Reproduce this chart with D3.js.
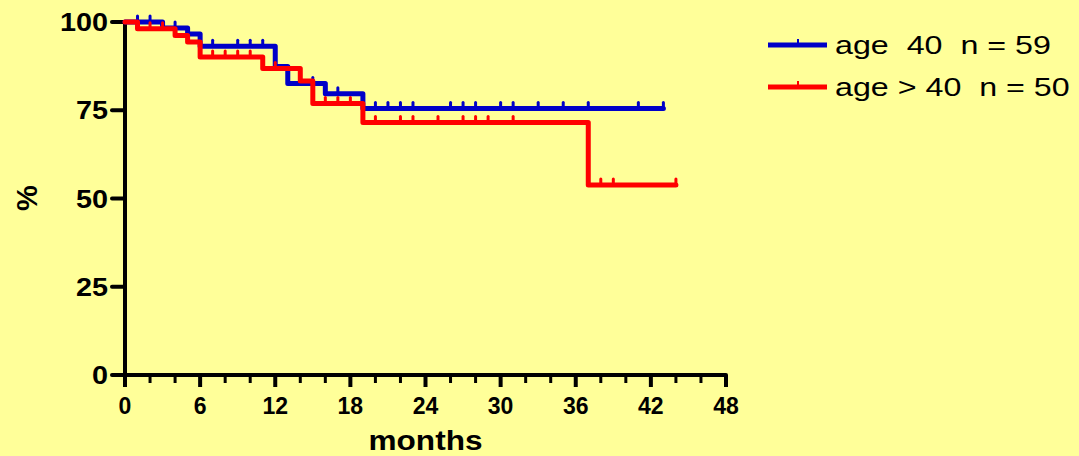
<!DOCTYPE html>
<html>
<head>
<meta charset="utf-8">
<script src="https://cdn.jsdelivr.net/npm/d3@7"></script>
<style>
  body { margin: 0; background: #FFFF99; }
  svg { display: block; }
  text { font-family: "Liberation Sans", Arial, sans-serif; fill: #000; white-space: pre; }
  .tick-label { font-weight: bold; }
</style>
</head>
<body>
<div id="chart"></div>
<script>
// survival curves
const blueTimes = [0, 3, 5, 6, 12, 13, 16, 19, 43];
const blueSurv = [100, 98.3, 96.6, 93.1, 87.4, 82.6, 79.7, 75.5, 75.5];
const blueCens = [1, 2, 4, 7, 9, 10, 11, 15, 17, 20, 21, 22, 23, 26, 27, 28, 30, 31, 33, 35, 37, 41, 43];

const redTimes = [0, 1, 4, 5, 6, 11, 14, 15, 19, 37, 44];
const redSurv = [100, 98.1, 96.2, 94.3, 90.1, 86.8, 83.3, 76.9, 71.5, 53.8, 53.8];
const redCens = [2, 3, 7, 8, 9, 10, 12, 16, 17, 18, 20, 22, 23, 25, 27, 28, 29, 31, 38, 39, 44];

const xTicks = [0, 6, 12, 18, 24, 30, 36, 42, 48];
const xMinor = d3.range(0, 49, 2);
const yTicks = [0, 25, 50, 75, 100];

const legendLabels = ['age  40  n = 59', 'age > 40  n = 50'];

const COLORS = { blue: '#0000C8', red: '#FF0000', bg: '#FFFF99' };

const W = 1079, H = 456;
const x = d3.scaleLinear().domain([0, 48]).range([125, 726]);
const y = d3.scaleLinear().domain([0, 100]).range([375, 22]);

const svg = d3.select('#chart').append('svg')
  .attr('width', W)
  .attr('height', H);

svg.append('rect').attr('width', W).attr('height', H).attr('fill', COLORS.bg);

// text in the original is a bit stretched sideways
function stretched(sel, tx, ty, sx) {
  return sel.attr('transform', 'translate(' + tx + ',' + ty + ') scale(' + sx + ',1)');
}

// axes
let gx = svg.append('g').attr('transform', 'translate(0,375)');
gx.selectAll('.minor')
  .data(xMinor.filter(function (d) { return d % 6 !== 0; }))
  .enter().append('line')
  .attr('x1', function (d) { return x(d); })
  .attr('x2', function (d) { return x(d); })
  .attr('y1', 0).attr('y2', 8)
  .attr('stroke', '#000').attr('stroke-width', 3);
gx.selectAll('.major')
  .data(xTicks)
  .enter().append('line')
  .attr('x1', function (d) { return x(d); })
  .attr('x2', function (d) { return x(d); })
  .attr('y1', 0).attr('y2', 12)
  .attr('stroke', '#000').attr('stroke-width', 4);
gx.append('line')
  .attr('x1', x(0)).attr('x2', x(48))
  .attr('stroke', '#000').attr('stroke-width', 4)
  .attr('stroke-linecap', 'round');
gx.selectAll('.tick-label')
  .data(xTicks)
  .enter().append('text')
  .attr('class', 'tick-label')
  .attr('x', function (d) { return x(d); })
  .attr('y', 39)
  .attr('text-anchor', 'middle')
  .style('font-size', '23px')
  .text(function (d) { return d; });

let gy = svg.append('g').attr('transform', 'translate(125,0)');
gy.append('line')
  .attr('y1', y(100)).attr('y2', y(0))
  .attr('stroke', '#000').attr('stroke-width', 4);
gy.selectAll('.ytick')
  .data(yTicks)
  .enter().append('line')
  .attr('x1', -13).attr('x2', 0)
  .attr('y1', function (d) { return y(d); })
  .attr('y2', function (d) { return y(d); })
  .attr('stroke', '#000').attr('stroke-width', 4)
  .attr('stroke-linecap', 'round');
gy.selectAll('.tick-label')
  .data(yTicks)
  .enter().append('text')
  .attr('class', 'tick-label')
  .each(function (d) { stretched(d3.select(this), -17, y(d), 1.15); })
  .attr('dy', '0.36em')
  .attr('text-anchor', 'end')
  .style('font-size', '25px')
  .text(function (d) { return d; });

svg.append('text')
  .attr('transform', 'translate(37,198) rotate(-90)')
  .attr('text-anchor', 'middle')
  .style('font-size', '29px').style('font-weight', 'bold')
  .text('%');

stretched(svg.append('text'), x(24), 450, 1.17)
  .attr('text-anchor', 'middle')
  .style('font-size', '27px').style('font-weight', 'bold')
  .text('months');

// curves
const line = d3.line()
  .x(function (d) { return x(d[0]); })
  .y(function (d) { return y(d[1]); })
  .curve(d3.curveStepAfter);

function survAt(times, surv, t) {
  let s = surv[0];
  times.forEach(function (tt, i) { if (tt <= t) s = surv[i]; });
  return s;
}

function drawCurve(times, surv, cens, color) {
  let g = svg.append('g');
  g.append('path')
    .datum(d3.zip(times, surv))
    .attr('d', line)
    .attr('fill', 'none')
    .attr('stroke', color)
    .attr('stroke-width', 5)
    .attr('stroke-linejoin', 'round')
    .attr('stroke-linecap', 'round');
  g.selectAll('.cens')
    .data(cens)
    .enter().append('line')
    .attr('x1', function (d) { return x(d); })
    .attr('x2', function (d) { return x(d); })
    .attr('y1', function (d) { return y(survAt(times, surv, d)); })
    .attr('y2', function (d) { return y(survAt(times, surv, d)) - 6; })
    .attr('stroke', color)
    .attr('stroke-width', 3)
    .attr('stroke-linecap', 'round');
}

drawCurve(blueTimes, blueSurv, blueCens, COLORS.blue);
drawCurve(redTimes, redSurv, redCens, COLORS.red);

// legend
[COLORS.blue, COLORS.red].forEach(function (c, i) {
  let ly = 45 + i * 42;
  let g = svg.append('g');
  g.append('line')
    .attr('x1', 768).attr('x2', 827)
    .attr('y1', ly).attr('y2', ly)
    .attr('stroke', c).attr('stroke-width', 5);
  g.append('line')
    .attr('x1', 798).attr('x2', 798)
    .attr('y1', ly).attr('y2', ly - 6)
    .attr('stroke', c).attr('stroke-width', 2);
  stretched(g.append('text'), 835, ly + 9, 1.24)
    .style('font-size', '26px')
    .text(legendLabels[i]);
});
</script>
</body>
</html>
